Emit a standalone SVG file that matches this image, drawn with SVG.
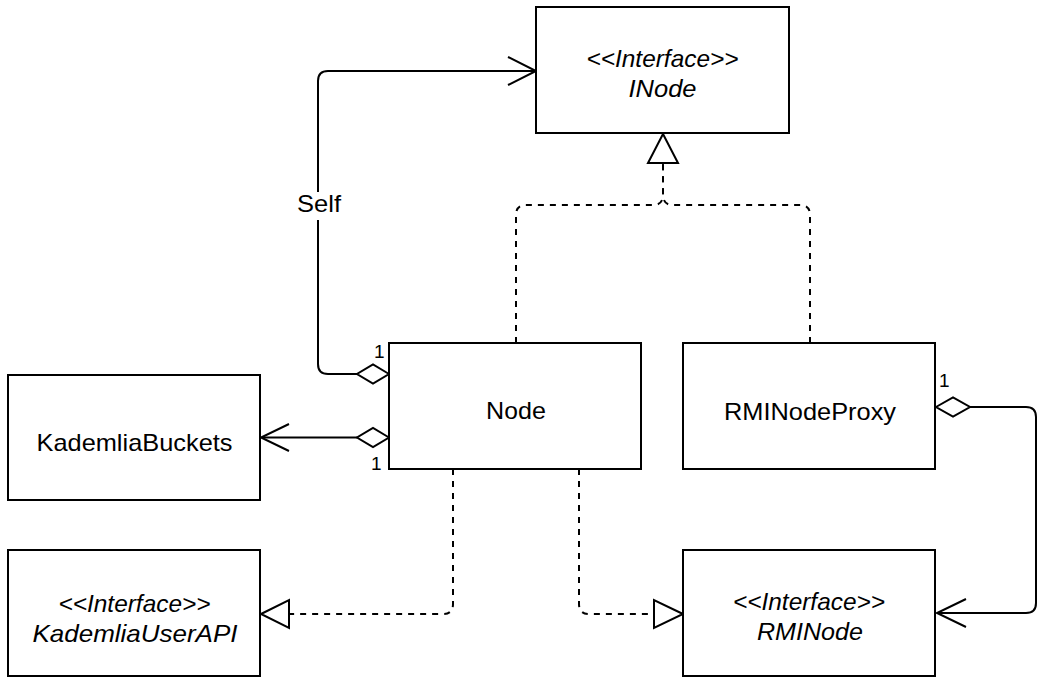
<svg xmlns="http://www.w3.org/2000/svg" width="1045" height="686" viewBox="0 0 1045 686">
<style>
.box{fill:#fff;stroke:#000;stroke-width:2}
.t{font-family:"Liberation Sans",Arial,sans-serif;font-size:24px;fill:#000;text-anchor:middle}
.i{font-style:italic}
.m{font-family:"Liberation Sans",Arial,sans-serif;font-size:19px;fill:#000}
.ln{fill:none;stroke:#000;stroke-width:2}
.d{stroke-dasharray:6 6}
.w{fill:#fff;stroke:#000;stroke-width:2;stroke-linejoin:miter}
</style>
<rect width="1045" height="686" fill="#fff"/>
<g id="connectors">
  <!-- Self -->
  <path class="ln" d="M357 374 L328 374 Q318 374 318 364 L318 81 Q318 71 328 71 L535 71"/>
  <polyline class="ln" points="508,57 536,71 508,85"/>
  <polygon class="w" points="389,374 373,364.5 357,374 373,383.5"/>
  <rect x="296" y="192" width="46" height="28" fill="#fff"/>
  <text class="t" x="319" y="212" textLength="44" lengthAdjust="spacingAndGlyphs">Self</text>
  <text class="m" x="374" y="358">1</text>
  <!-- Node to KademliaBuckets -->
  <path class="ln" d="M357 437.5 L262 437.5"/>
  <polyline class="ln" points="289,424 261,437.5 289,451"/>
  <polygon class="w" points="389,437.5 373,428 357,437.5 373,447"/>
  <text class="m" x="371" y="470">1</text>
  <!-- Realizations to INode -->
  <path class="ln d" d="M516 343 L516 215 Q516 205 526 205 L653 205 Q663 205 663 195 L663 163"/>
  <path class="ln d" d="M810 343 L810 215 Q810 205 800 205 L673 205 Q663 205 663 195 L663 163"/>
  <polygon class="w" points="663,134 648,163 678,163"/>
  <!-- Node to KademliaUserAPI -->
  <path class="ln d" d="M453 469 L453 604 Q453 614 443 614 L289 614"/>
  <polygon class="w" points="261,614 289,600 289,628"/>
  <!-- Node to RMINode -->
  <path class="ln d" d="M579 469 L579 604 Q579 614 589 614 L654 614"/>
  <polygon class="w" points="683,614 654,600 654,628"/>
  <!-- RMINodeProxy to RMINode -->
  <path class="ln" d="M970 407 L1026 407 Q1036 407 1036 417 L1036 603 Q1036 613 1026 613 L938 613"/>
  <polyline class="ln" points="966,599 937,613 966,627"/>
  <polygon class="w" points="936,407 953,397.5 970,407 953,416.5"/>
  <text class="m" x="939" y="387">1</text>
</g>
<g id="INode">
  <rect class="box" x="536" y="7" width="253" height="126"/>
  <text class="t i" x="662.5" y="67" textLength="152" lengthAdjust="spacingAndGlyphs">&lt;&lt;Interface&gt;&gt;</text>
  <text class="t i" x="662.5" y="97" textLength="68" lengthAdjust="spacingAndGlyphs">INode</text>
</g>
<g id="Node">
  <rect class="box" x="389" y="343" width="252" height="126"/>
  <text class="t" x="516" y="419" textLength="60" lengthAdjust="spacingAndGlyphs">Node</text>
</g>
<g id="RMINodeProxy">
  <rect class="box" x="683" y="343" width="252" height="126"/>
  <text class="t" x="810" y="420" textLength="172" lengthAdjust="spacingAndGlyphs">RMINodeProxy</text>
</g>
<g id="KademliaBuckets">
  <rect class="box" x="8" y="375" width="252" height="125"/>
  <text class="t" x="134.5" y="451" textLength="196" lengthAdjust="spacingAndGlyphs">KademliaBuckets</text>
</g>
<g id="KademliaUserAPI">
  <rect class="box" x="8" y="550" width="252" height="126"/>
  <text class="t i" x="134.5" y="612" textLength="152" lengthAdjust="spacingAndGlyphs">&lt;&lt;Interface&gt;&gt;</text>
  <text class="t i" x="135" y="642" textLength="205" lengthAdjust="spacingAndGlyphs">KademliaUserAPI</text>
</g>
<g id="RMINode">
  <rect class="box" x="683" y="550" width="252" height="126"/>
  <text class="t i" x="809" y="610" textLength="152" lengthAdjust="spacingAndGlyphs">&lt;&lt;Interface&gt;&gt;</text>
  <text class="t i" x="810" y="640" textLength="106" lengthAdjust="spacingAndGlyphs">RMINode</text>
</g>
</svg>
